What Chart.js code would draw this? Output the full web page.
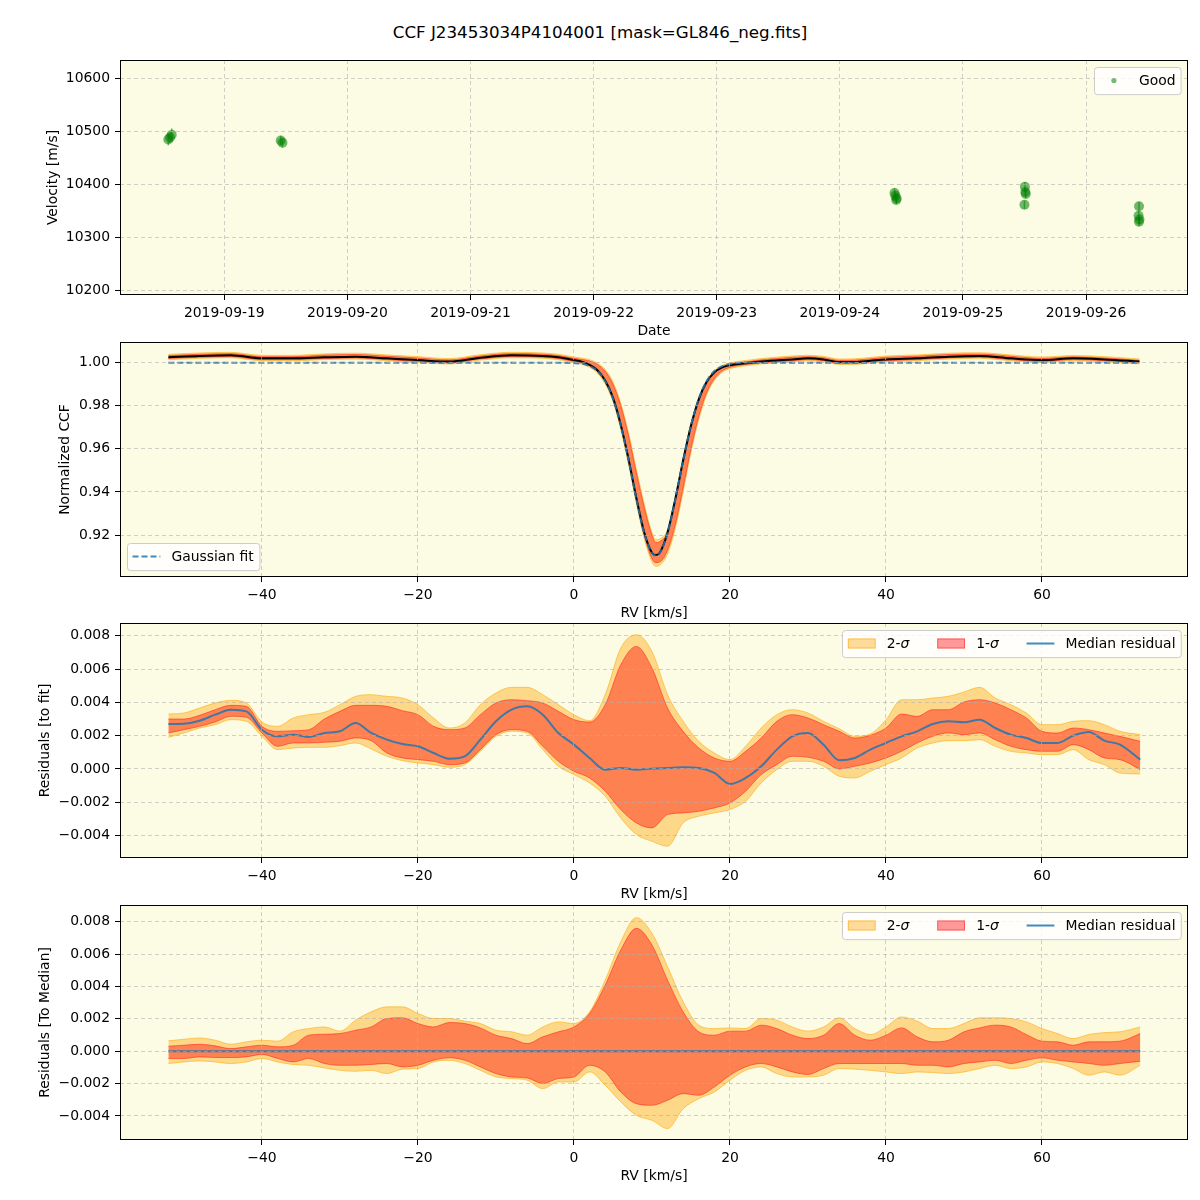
<!DOCTYPE html>
<html>
<head>
<meta charset="utf-8">
<script src="https://cdn.jsdelivr.net/npm/chart.js@4.4.1/dist/chart.umd.min.js"></script>
<style>
  body { margin: 0; background: #fff; }
  #fig { position: relative; width: 1200px; height: 1200px; font-family: "DejaVu Sans", sans-serif; }
  #title { position: absolute; top: 22px; left: 0; width: 1200px; text-align: center; font-size: 16.7px; line-height: 20px; color: #000; }
  canvas { position: absolute; left: 0; }
</style>
</head>
<body>
<div id="fig">
  <div id="title">CCF J23453034P4104001 [mask=GL846_neg.fits]</div>
  <canvas id="c-vel" width="1200" height="299" style="top:46px"></canvas>
  <canvas id="c-ccf" width="1200" height="299" style="top:328px"></canvas>
  <canvas id="c-res1" width="1200" height="299" style="top:609px"></canvas>
  <canvas id="c-res2" width="1200" height="299" style="top:891px"></canvas>
</div>
<script>
// ---- panel 1: radial velocities ----
const velDates = ['2019-09-18T13:05Z', '2019-09-18T13:25Z', '2019-09-18T13:45Z', '2019-09-19T11:00Z', '2019-09-19T11:20Z',
  '2019-09-24T10:40Z', '2019-09-24T10:50Z', '2019-09-24T11:00Z', '2019-09-24T11:05Z',
  '2019-09-25T12:00Z', '2019-09-25T12:05Z', '2019-09-25T12:10Z', '2019-09-25T12:15Z',
  '2019-09-26T10:15Z', '2019-09-26T10:20Z', '2019-09-26T10:20Z', '2019-09-26T10:25Z'];
const velValues = [10484, 10488, 10493, 10482, 10478, 10383, 10378, 10370, 10373, 10361, 10395, 10385, 10381, 10340, 10358, 10329, 10333];
const velErrors = [11, 10, 12, 9, 9, 9, 8, 8, 9, 8, 9, 8, 8, 9, 8, 8, 9];
const dateTicks = ['2019-09-19', '2019-09-20', '2019-09-21', '2019-09-22', '2019-09-23', '2019-09-24', '2019-09-25', '2019-09-26'];
const velTicks = [10200, 10300, 10400, 10500, 10600];

// ---- panel 2: normalized CCF ----
const ccfRv = [-52, -48, -44, -40, -36, -32, -28, -24, -20, -16, -12, -8, -4, -2,
  0, 1, 2, 3, 4, 5, 6, 7, 8, 9, 10,
  10.5, 11, 12, 13, 14, 15, 16, 17, 18, 19, 20,
  22, 24, 28, 30, 32, 34, 36, 38, 40,
  44, 48, 52, 56, 60, 64, 68, 72.5];
const ccfMedian = [1.0025, 1.0031, 1.0034, 1.0020, 1.0020, 1.0025, 1.0028, 1.0020, 1.0012, 1.0005, 1.0023, 1.0034, 1.0031, 1.0025,
  1.0012, 1.0005, 0.9990, 0.9965, 0.9917, 0.9838, 0.9712, 0.9552, 0.9372, 0.9213, 0.9118,
  0.9107, 0.9118, 0.9212, 0.9368, 0.9547, 0.9707, 0.9830, 0.9910, 0.9955, 0.9978, 0.9988,
  0.9997, 1.0005, 1.0015, 1.0020, 1.0015, 1.0003, 1.0003, 1.0009, 1.0015,
  1.0020, 1.0028, 1.0031, 1.0020, 1.0012, 1.0020, 1.0015, 1.0005];
const ccfUp1 = [1.0033, 1.0039, 1.0042, 1.0028, 1.0028, 1.0035, 1.0038, 1.0030, 1.0022, 1.0013, 1.0031, 1.0042, 1.0039, 1.0033,
  1.0020, 1.0015, 1.0008, 0.9992, 0.9960, 0.9900, 0.9800, 0.9660, 0.9490, 0.9330, 0.9200,
  0.9165, 0.9170, 0.9215, 0.9372, 0.9550, 0.9710, 0.9832, 0.9912, 0.9958, 0.9982, 0.9994,
  1.0004, 1.0013, 1.0025, 1.0028, 1.0023, 1.0011, 1.0012, 1.0018, 1.0025,
  1.0030, 1.0038, 1.0040, 1.0030, 1.0020, 1.0027, 1.0022, 1.0011];
const ccfLo1 = [1.0019, 1.0025, 1.0028, 1.0014, 1.0014, 1.0019, 1.0022, 1.0014, 1.0006, 0.9999, 1.0017, 1.0028, 1.0025, 1.0019,
  1.0005, 0.9998, 0.9985, 0.9960, 0.9912, 0.9832, 0.9705, 0.9545, 0.9365, 0.9200, 0.9090,
  0.9072, 0.9075, 0.9130, 0.9250, 0.9420, 0.9600, 0.9750, 0.9860, 0.9925, 0.9962, 0.9978,
  0.9991, 0.9999, 1.0009, 1.0014, 1.0009, 0.9997, 0.9997, 1.0003, 1.0009,
  1.0014, 1.0022, 1.0025, 1.0014, 1.0006, 1.0014, 1.0009, 0.9999];
const ccfUp2 = [1.0039, 1.0045, 1.0048, 1.0034, 1.0034, 1.0041, 1.0044, 1.0036, 1.0028, 1.0019, 1.0037, 1.0048, 1.0045, 1.0039,
  1.0026, 1.0021, 1.0014, 0.9998, 0.9968, 0.9910, 0.9812, 0.9674, 0.9505, 0.9345, 0.9212,
  0.9178, 0.9182, 0.9226, 0.9382, 0.9558, 0.9717, 0.9838, 0.9917, 0.9963, 0.9987, 0.9999,
  1.0010, 1.0019, 1.0031, 1.0034, 1.0029, 1.0017, 1.0018, 1.0024, 1.0031,
  1.0036, 1.0044, 1.0046, 1.0036, 1.0026, 1.0033, 1.0028, 1.0017];
const ccfLo2 = [1.0014, 1.0020, 1.0023, 1.0009, 1.0009, 1.0014, 1.0017, 1.0009, 1.0001, 0.9994, 1.0012, 1.0023, 1.0020, 1.0014,
  1.0000, 0.9993, 0.9979, 0.9952, 0.9902, 0.9820, 0.9690, 0.9528, 0.9348, 0.9185, 0.9075,
  0.9055, 0.9060, 0.9112, 0.9232, 0.9402, 0.9585, 0.9738, 0.9850, 0.9918, 0.9956, 0.9972,
  0.9986, 0.9994, 1.0004, 1.0009, 1.0004, 0.9992, 0.9992, 0.9998, 1.0004,
  1.0009, 1.0017, 1.0020, 1.0009, 1.0001, 1.0009, 1.0004, 0.9994];
const ccfFit = [1.0, 1.0, 1.0, 1.0, 1.0, 1.0, 1.0, 1.0, 1.0, 1.0, 1.0, 1.0, 1.0, 1.0,
  0.9998, 0.9995, 0.9984, 0.9961, 0.9914, 0.9833, 0.9709, 0.9547, 0.9367, 0.9210, 0.9117,
  0.9105, 0.9117, 0.9210, 0.9367, 0.9547, 0.9709, 0.9833, 0.9914, 0.9961, 0.9984, 0.9994,
  1.0, 1.0, 1.0, 1.0, 1.0, 1.0, 1.0, 1.0, 1.0,
  1.0, 1.0, 1.0, 1.0, 1.0, 1.0, 1.0, 1.0];
const ccfTicks = [0.92, 0.94, 0.96, 0.98, 1.00];

// ---- panels 3 and 4: residuals ----
const resRv = [-52, -50, -48, -46, -44, -42, -40, -38, -36, -34, -32, -30, -28, -26, -24,
  -22, -20, -18, -16, -14, -12, -10, -8, -6, -4, -2, 0, 2, 4, 6, 8, 10, 12, 14, 16, 18, 20, 22, 24, 26, 28,
  30, 32, 34, 36, 38, 40, 42, 44, 46, 48, 50, 52, 54, 56, 58, 60, 62, 64, 66, 68, 70, 72.6];

const res1Median = [0.00270, 0.00272, 0.00290, 0.00326, 0.00356, 0.00346, 0.00236, 0.00196, 0.00206, 0.00192, 0.00216, 0.00226, 0.00276, 0.00216, 0.00176,
  0.00150, 0.00136, 0.00096, 0.00062, 0.00076, 0.00176, 0.00286, 0.00356, 0.00376, 0.00326, 0.00216, 0.00146, 0.00066, -0.00004, 0.00006, -0.00004, 0.00002, 0.00006, 0.00010, 0.00006, -0.00024, -0.00090, -0.00054, 0.00016, 0.00116, 0.00196,
  0.00216, 0.00146, 0.00052, 0.00066, 0.00116, 0.00156, 0.00196, 0.00226, 0.00270, 0.00286, 0.00280, 0.00296, 0.00246, 0.00206, 0.00186, 0.00156, 0.00156, 0.00200, 0.00222, 0.00170, 0.00146, 0.00056];
const res1Up1 = [0.00300, 0.00300, 0.00322, 0.00356, 0.00382, 0.00376, 0.00256, 0.00226, 0.00230, 0.00236, 0.00300, 0.00346, 0.00382, 0.00382, 0.00376,
  0.00350, 0.00326, 0.00256, 0.00236, 0.00246, 0.00326, 0.00396, 0.00416, 0.00410, 0.00396, 0.00346, 0.00296, 0.00282, 0.00386, 0.00626, 0.00736, 0.00606, 0.00366, 0.00226, 0.00126, 0.00066, 0.00046, 0.00106, 0.00186, 0.00286, 0.00326,
  0.00306, 0.00266, 0.00226, 0.00186, 0.00202, 0.00246, 0.00330, 0.00316, 0.00356, 0.00356, 0.00402, 0.00416, 0.00396, 0.00356, 0.00306, 0.00226, 0.00216, 0.00246, 0.00236, 0.00216, 0.00196, 0.00166];
const res1Lo1 = [0.00216, 0.00236, 0.00256, 0.00282, 0.00316, 0.00310, 0.00216, 0.00136, 0.00156, 0.00156, 0.00160, 0.00166, 0.00186, 0.00170, 0.00096,
  0.00066, 0.00056, 0.00046, 0.00026, 0.00036, 0.00116, 0.00206, 0.00236, 0.00226, 0.00136, 0.00046, -0.00014, -0.00054, -0.00134, -0.00244, -0.00324, -0.00354, -0.00274, -0.00264, -0.00254, -0.00234, -0.00204, -0.00134, -0.00034, 0.00026, 0.00076,
  0.00070, 0.00046, 0.00000, 0.00016, 0.00036, 0.00066, 0.00106, 0.00156, 0.00196, 0.00216, 0.00206, 0.00216, 0.00176, 0.00136, 0.00116, 0.00106, 0.00106, 0.00146, 0.00116, 0.00066, 0.00056, -0.00004];
const res1Up2 = [0.00330, 0.00336, 0.00366, 0.00396, 0.00412, 0.00396, 0.00282, 0.00256, 0.00306, 0.00326, 0.00340, 0.00386, 0.00436, 0.00446, 0.00436,
  0.00426, 0.00386, 0.00306, 0.00246, 0.00276, 0.00386, 0.00456, 0.00490, 0.00490, 0.00446, 0.00386, 0.00326, 0.00290, 0.00446, 0.00726, 0.00806, 0.00706, 0.00446, 0.00286, 0.00166, 0.00096, 0.00056, 0.00136, 0.00246, 0.00326, 0.00356,
  0.00336, 0.00286, 0.00242, 0.00196, 0.00210, 0.00296, 0.00416, 0.00416, 0.00426, 0.00436, 0.00462, 0.00490, 0.00426, 0.00386, 0.00336, 0.00266, 0.00266, 0.00286, 0.00290, 0.00266, 0.00226, 0.00206];
const res1Lo2 = [0.00190, 0.00216, 0.00246, 0.00266, 0.00296, 0.00286, 0.00196, 0.00116, 0.00126, 0.00130, 0.00130, 0.00140, 0.00156, 0.00120, 0.00076,
  0.00050, 0.00036, 0.00026, 0.00010, 0.00026, 0.00106, 0.00196, 0.00226, 0.00216, 0.00116, 0.00016, -0.00034, -0.00084, -0.00164, -0.00294, -0.00394, -0.00434, -0.00464, -0.00324, -0.00284, -0.00264, -0.00244, -0.00194, -0.00084, -0.00004, 0.00046,
  0.00046, 0.00016, -0.00044, -0.00054, -0.00014, 0.00026, 0.00066, 0.00126, 0.00156, 0.00170, 0.00170, 0.00176, 0.00136, 0.00106, 0.00096, 0.00086, 0.00086, 0.00116, 0.00056, 0.00026, -0.00024, -0.00030];

const res2MedianRv = [-52, 72.6];
const res2Median = [0, 0];
const res2Up1 = [0.00031, 0.00037, 0.00043, 0.00033, 0.00016, 0.00027, 0.00037, 0.00027, 0.00037, 0.00099, 0.00105, 0.00109, 0.00130, 0.00150, 0.00202,
  0.00206, 0.00171, 0.00150, 0.00177, 0.00171, 0.00144, 0.00099, 0.00078, 0.00047, 0.00089, 0.00120, 0.00150, 0.00233, 0.00408, 0.00625, 0.00759, 0.00656, 0.00439, 0.00243, 0.00120, 0.00099, 0.00124, 0.00124, 0.00161, 0.00140, 0.00099,
  0.00078, 0.00099, 0.00171, 0.00099, 0.00068, 0.00099, 0.00144, 0.00089, 0.00058, 0.00068, 0.00120, 0.00144, 0.00161, 0.00150, 0.00103, 0.00062, 0.00058, 0.00037, 0.00058, 0.00058, 0.00062, 0.00109];
const res2Lo1 = [-0.00045, -0.00045, -0.00035, -0.00039, -0.00039, -0.00035, -0.00020, -0.00045, -0.00066, -0.00045, -0.00076, -0.00087, -0.00087, -0.00082, -0.00076,
  -0.00097, -0.00087, -0.00056, -0.00041, -0.00056, -0.00097, -0.00138, -0.00159, -0.00165, -0.00200, -0.00169, -0.00159, -0.00087, -0.00128, -0.00252, -0.00324, -0.00334, -0.00303, -0.00262, -0.00272, -0.00221, -0.00148, -0.00097, -0.00076, -0.00097, -0.00128,
  -0.00144, -0.00107, -0.00076, -0.00076, -0.00076, -0.00076, -0.00076, -0.00087, -0.00087, -0.00097, -0.00076, -0.00066, -0.00056, -0.00076, -0.00056, -0.00041, -0.00056, -0.00066, -0.00076, -0.00087, -0.00076, -0.00062];
const res2Up2 = [0.00064, 0.00074, 0.00082, 0.00068, 0.00043, 0.00058, 0.00068, 0.00062, 0.00120, 0.00140, 0.00150, 0.00124, 0.00192, 0.00243, 0.00274,
  0.00274, 0.00233, 0.00202, 0.00202, 0.00186, 0.00171, 0.00130, 0.00120, 0.00099, 0.00150, 0.00181, 0.00171, 0.00243, 0.00439, 0.00676, 0.00825, 0.00728, 0.00522, 0.00305, 0.00161, 0.00140, 0.00144, 0.00140, 0.00202, 0.00192, 0.00150,
  0.00124, 0.00150, 0.00206, 0.00140, 0.00103, 0.00150, 0.00212, 0.00186, 0.00140, 0.00140, 0.00171, 0.00206, 0.00206, 0.00202, 0.00181, 0.00140, 0.00109, 0.00078, 0.00103, 0.00115, 0.00120, 0.00150];
const res2Lo2 = [-0.00076, -0.00066, -0.00060, -0.00066, -0.00076, -0.00066, -0.00045, -0.00066, -0.00082, -0.00087, -0.00103, -0.00118, -0.00124, -0.00118, -0.00138,
  -0.00111, -0.00107, -0.00066, -0.00056, -0.00076, -0.00118, -0.00159, -0.00169, -0.00179, -0.00231, -0.00190, -0.00190, -0.00128, -0.00210, -0.00313, -0.00396, -0.00427, -0.00478, -0.00355, -0.00293, -0.00252, -0.00179, -0.00118, -0.00097, -0.00138, -0.00159,
  -0.00159, -0.00148, -0.00107, -0.00111, -0.00118, -0.00128, -0.00138, -0.00128, -0.00132, -0.00138, -0.00128, -0.00107, -0.00087, -0.00107, -0.00097, -0.00066, -0.00076, -0.00107, -0.00148, -0.00128, -0.00148, -0.00087];

const rvTicks = [-40, -20, 0, 20, 40, 60];
const resTicks = [-0.004, -0.002, 0.000, 0.002, 0.004, 0.006, 0.008];

// ---- styling ----
const FS = 13.9;
const FONT = `${FS}px "DejaVu Sans"`;
const IFONT = `italic ${FS}px "DejaVu Sans"`;
const BG = '#fcfbe4';
const SIGMA2_FILL = 'rgba(255,165,0,0.4)';
const SIGMA2_EDGE = 'rgba(255,165,0,0.55)';
const SIGMA1_FILL = 'rgba(255,0,0,0.4)';
const SIGMA1_EDGE = 'rgba(255,0,0,0.45)';
const BLUE = 'rgba(31,119,180,0.85)';

Chart.defaults.font.family = '"DejaVu Sans", sans-serif';
Chart.defaults.font.size = FS;
Chart.defaults.color = '#000';

const minus = (s) => s.replace('-', '\u2212');
const pts = (xs, ys) => xs.map((x, i) => ({ x, y: ys[i] }));

function scale(o) {
  return {
    type: 'linear',
    min: o.min,
    max: o.max,
    afterBuildTicks: (s) => { s.ticks = o.ticks.map((v) => ({ value: v })); },
    afterFit: (s) => { if (s.isHorizontal()) s.height = o.size; else s.width = o.size; },
    ticks: { callback: o.fmt, padding: 5, color: '#000', autoSkip: false, maxRotation: 0 },
    grid: { z: 1, color: 'rgba(176,176,176,0.6)', lineWidth: 1, tickLength: 5, tickColor: '#000', tickWidth: 1, tickBorderDash: [1, 0] },
    border: { display: false, dash: [4, 3] },
    title: { display: true, text: o.title, color: '#000', padding: { top: 0, bottom: 5 } },
  };
}

function labelWidth(ctx, parts) {
  return parts.reduce((w, p) => { ctx.font = p.i ? IFONT : FONT; return w + ctx.measureText(p.t).width; }, 0);
}

// axes background, black frame and a matplotlib-like legend
function framePlugin(items, corner) {
  return {
    id: 'frame',
    beforeDraw(chart) {
      const { ctx, chartArea: a } = chart;
      ctx.save();
      ctx.fillStyle = BG;
      ctx.fillRect(a.left, a.top, a.right - a.left, a.bottom - a.top);
      ctx.restore();
    },
    afterDraw(chart) {
      const { ctx, chartArea: a } = chart;
      ctx.save();
      ctx.strokeStyle = '#000';
      ctx.lineWidth = 1;
      ctx.strokeRect(a.left + 0.5, a.top + 0.5, a.right - a.left - 1, a.bottom - a.top - 1);

      const pad = 0.4 * FS, hl = 2 * FS, hp = 0.8 * FS, cs = 2 * FS, ap = 0.5 * FS;
      const widths = items.map((it) => labelWidth(ctx, it.label));
      const w = 2 * pad + widths.reduce((s, v) => s + v + hl + hp, 0) + cs * (items.length - 1);
      const h = 2 * pad + 16;
      const x = corner === 'tr' ? a.right - ap - w : a.left + ap;
      const y = corner === 'tr' ? a.top + ap : a.bottom - ap - h;
      ctx.beginPath();
      if (ctx.roundRect) ctx.roundRect(Math.round(x) + 0.5, Math.round(y) + 0.5, w, h, 3);
      else ctx.rect(Math.round(x) + 0.5, Math.round(y) + 0.5, w, h);
      ctx.fillStyle = 'rgba(255,255,255,0.8)';
      ctx.fill();
      ctx.strokeStyle = '#cccccc';
      ctx.stroke();

      let cx = x + pad;
      const cy = y + h / 2;
      items.forEach((it, i) => {
        if (it.kind === 'patch') {
          ctx.fillStyle = '#fff';
          ctx.fillRect(cx, cy - 5, hl, 10);
          ctx.fillStyle = it.fill;
          ctx.fillRect(cx, cy - 5, hl, 10);
          ctx.strokeStyle = it.edge;
          ctx.lineWidth = 1;
          ctx.strokeRect(cx + 0.5, cy - 4.5, hl - 1, 9);
        } else if (it.kind === 'line') {
          ctx.beginPath();
          ctx.setLineDash(it.dash || []);
          ctx.strokeStyle = it.color;
          ctx.lineWidth = 2;
          ctx.moveTo(cx, cy);
          ctx.lineTo(cx + hl, cy);
          ctx.stroke();
          ctx.setLineDash([]);
        } else {
          ctx.beginPath();
          ctx.fillStyle = it.color;
          ctx.arc(cx + hl / 2, cy, 2.6, 0, Math.PI * 2);
          ctx.fill();
        }
        let tx = cx + hl + hp;
        ctx.fillStyle = '#000';
        ctx.textBaseline = 'middle';
        it.label.forEach((p) => {
          ctx.font = p.i ? IFONT : FONT;
          ctx.fillText(p.t, tx, cy + 1);
          tx += ctx.measureText(p.t).width;
        });
        cx += hl + hp + widths[i] + cs;
      });
      ctx.restore();
    },
  };
}

const errorBars = {
  id: 'errorBars',
  beforeDatasetsDraw(chart) {
    const { ctx, scales: { y } } = chart;
    const meta = chart.getDatasetMeta(0);
    ctx.save();
    ctx.strokeStyle = 'rgba(0,128,0,0.55)';
    ctx.lineWidth = 1.5;
    meta.data.forEach((p, i) => {
      ctx.beginPath();
      ctx.moveTo(p.x, y.getPixelForValue(velValues[i] + velErrors[i]));
      ctx.lineTo(p.x, y.getPixelForValue(velValues[i] - velErrors[i]));
      ctx.stroke();
    });
    ctx.restore();
  },
};

function baseOptions(padLeft, xScale, yScale) {
  return {
    responsive: false,
    animation: false,
    events: [],
    layout: { padding: { top: 14, right: 12, bottom: 0, left: padLeft } },
    plugins: { legend: { display: false }, tooltip: { enabled: false } },
    elements: { point: { radius: 0 } },
    scales: { x: xScale, y: yScale },
  };
}

function band(upper, lower, xs, fill, edge, order) {
  return [
    { data: pts(xs, upper), fill: '+1', backgroundColor: fill, borderColor: edge, borderWidth: 1, cubicInterpolationMode: 'monotone', order },
    { data: pts(xs, lower), fill: false, backgroundColor: fill, borderColor: edge, borderWidth: 1, cubicInterpolationMode: 'monotone', order },
  ];
}

const rvScale = (size) => scale({ min: -58.2, max: 78.72, ticks: rvTicks, size, title: 'RV [km/s]', fmt: (v) => minus(String(v)) });
const resFmt = (v) => minus(v.toFixed(3));

// panel 1
const day = (s) => Date.parse(s);
new Chart(document.getElementById('c-vel'), {
  type: 'scatter',
  data: {
    datasets: [{
      data: velDates.map((d, i) => ({ x: day(d), y: velValues[i] })),
      pointRadius: 5,
      pointBackgroundColor: 'rgba(0,128,0,0.55)',
      pointBorderWidth: 0,
      borderWidth: 0,
    }],
  },
  options: baseOptions(44.7,
    scale({ min: Date.UTC(2019, 8, 18, 3, 40), max: Date.UTC(2019, 8, 26, 19, 53), ticks: dateTicks.map(day), size: 50, title: 'Date',
      fmt: (v) => new Date(v).toISOString().slice(0, 10) }),
    scale({ min: 10190.6, max: 10634, ticks: velTicks, size: 120 - 44.7, title: 'Velocity [m/s]', fmt: (v) => String(v) })),
  plugins: [errorBars, framePlugin([{ kind: 'dot', color: 'rgba(0,128,0,0.55)', label: [{ t: 'Good' }] }], 'tr')],
});

// panel 2
new Chart(document.getElementById('c-ccf'), {
  type: 'line',
  data: {
    datasets: [
      { data: pts(ccfRv, ccfFit), borderColor: BLUE, borderWidth: 2, borderDash: [6, 3], fill: false, cubicInterpolationMode: 'monotone', order: -1 },
      { data: pts(ccfRv, ccfMedian), borderColor: '#000', borderWidth: 2, fill: false, cubicInterpolationMode: 'monotone', order: 0 },
      ...band(ccfUp1, ccfLo1, ccfRv, SIGMA1_FILL, SIGMA1_EDGE, 1),
      ...band(ccfUp2, ccfLo2, ccfRv, SIGMA2_FILL, SIGMA2_EDGE, 2),
    ],
  },
  options: baseOptions(57.3, rvScale(50),
    scale({ min: 0.90053, max: 1.00959, ticks: ccfTicks, size: 120 - 57.3, title: 'Normalized CCF', fmt: (v) => v.toFixed(2) })),
  plugins: [framePlugin([{ kind: 'line', color: BLUE, dash: [6, 3], label: [{ t: 'Gaussian fit' }] }], 'bl')],
});

const resLegend = [
  { kind: 'patch', fill: SIGMA2_FILL, edge: SIGMA2_EDGE, label: [{ t: '2-' }, { t: '\u03c3', i: true }] },
  { kind: 'patch', fill: SIGMA1_FILL, edge: SIGMA1_EDGE, label: [{ t: '1-' }, { t: '\u03c3', i: true }] },
  { kind: 'line', color: BLUE, label: [{ t: 'Median residual' }] },
];

// panel 3
new Chart(document.getElementById('c-res1'), {
  type: 'line',
  data: {
    datasets: [
      { data: pts(resRv, res1Median), borderColor: BLUE, borderWidth: 2, fill: false, cubicInterpolationMode: 'monotone', order: 0 },
      ...band(res1Up1, res1Lo1, resRv, SIGMA1_FILL, SIGMA1_EDGE, 1),
      ...band(res1Up2, res1Lo2, resRv, SIGMA2_FILL, SIGMA2_EDGE, 2),
    ],
  },
  options: baseOptions(37.4, rvScale(50),
    scale({ min: -0.005347, max: 0.008765, ticks: resTicks, size: 120 - 37.4, title: 'Residuals [to fit]', fmt: resFmt })),
  plugins: [framePlugin(resLegend, 'tr')],
});

// panel 4
new Chart(document.getElementById('c-res2'), {
  type: 'line',
  data: {
    datasets: [
      { data: pts(res2MedianRv, res2Median), borderColor: BLUE, borderWidth: 2, fill: false, order: 0 },
      ...band(res2Up1, res2Lo1, resRv, SIGMA1_FILL, SIGMA1_EDGE, 1),
      ...band(res2Up2, res2Lo2, resRv, SIGMA2_FILL, SIGMA2_EDGE, 2),
    ],
  },
  options: baseOptions(37.4, rvScale(50),
    scale({ min: -0.005484, max: 0.009031, ticks: resTicks, size: 120 - 37.4, title: 'Residuals [To Median]', fmt: resFmt })),
  plugins: [framePlugin(resLegend, 'tr')],
});
</script>
</body>
</html>
